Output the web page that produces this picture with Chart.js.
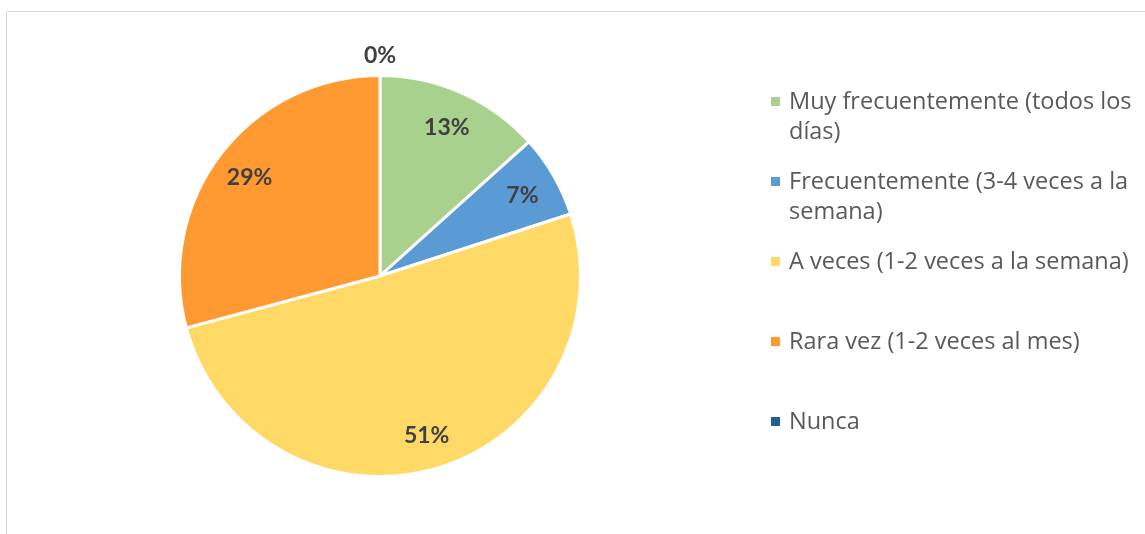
<!DOCTYPE html>
<html>
<head>
<meta charset="utf-8">
<script src="https://cdn.jsdelivr.net/npm/chart.js@4.4.1/dist/chart.umd.min.js"></script>
<style>
  html, body { margin: 0; padding: 0; background: #fff; }
  #wrap { position: relative; width: 1145px; height: 534px; overflow: hidden; }
  #frame { position: absolute; left: 6px; top: 11px; width: 1200px; height: 600px; border: 1px solid #d9d9d9; box-sizing: border-box; }
  #pie { position: absolute; left: 0; top: 0; }
  #legend { position: absolute; left: 770px; top: 85px; width: 375px; font-family: "Open Sans", Lato, sans-serif; font-size: 23.5px; color: #595959; }
  .item { position: relative; padding-left: 19px; line-height: 30px; height: 80px; white-space: nowrap; }
  .box { position: absolute; left: 1px; top: 12px; width: 9px; height: 9px; }
</style>
</head>
<body>
<div id="wrap">
  <div id="frame"></div>
  <canvas id="pie" width="1145" height="534"></canvas>
  <div id="legend"></div>
</div>
<script>
const categories = [
  "Muy frecuentemente (todos los días)",
  "Frecuentemente (3-4 veces a la semana)",
  "A veces (1-2 veces a la semana)",
  "Rara vez (1-2 veces al mes)",
  "Nunca"
];
const legendLines = [
  ["Muy frecuentemente (todos los", "días)"],
  ["Frecuentemente (3-4 veces a la", "semana)"],
  ["A veces (1-2 veces a la semana)"],
  ["Rara vez (1-2 veces al mes)"],
  ["Nunca"]
];
const counts = [16, 8, 61, 35, 0];
const colors = ["#a9d18e", "#5b9bd5", "#ffd966", "#ff9a33", "#255e91"];

// percent labels drawn on the arcs (no datalabels plugin offline)
const pctLabels = {
  id: "pctLabels",
  afterDatasetsDraw(chart) {
    const ctx = chart.ctx;
    const meta = chart.getDatasetMeta(0);
    const total = counts.reduce((a, b) => a + b, 0);
    ctx.save();
    ctx.font = "bold 23px Lato, 'Open Sans', sans-serif";
    ctx.fillStyle = "#404040";
    ctx.textAlign = "center";
    ctx.textBaseline = "middle";
    meta.data.forEach((arc, i) => {
      const p = arc.getProps(["x", "y", "startAngle", "endAngle", "outerRadius"], true);
      const mid = (p.startAngle + p.endAngle) / 2;
      const r = counts[i] === 0 ? p.outerRadius + 22 : p.outerRadius * 0.82;
      const txt = Math.round(counts[i] / total * 100) + "%";
      ctx.fillText(txt, p.x + Math.cos(mid) * r, p.y + Math.sin(mid) * r + 2);
    });
    ctx.restore();
  }
};

new Chart(document.getElementById("pie"), {
  type: "pie",
  plugins: [pctLabels],
  data: {
    labels: categories,
    datasets: [{
      data: counts,
      backgroundColor: colors,
      borderColor: "#ffffff",
      borderWidth: 3,
      hoverOffset: 0
    }]
  },
  options: {
    responsive: false,
    animation: false,
    events: [],
    layout: {
      padding: { left: 178, right: 563, top: 74, bottom: 56 }
    },
    plugins: {
      legend: { display: false },
      tooltip: { enabled: false }
    }
  }
});

const legend = document.getElementById("legend");
legendLines.forEach((lines, i) => {
  const div = document.createElement("div");
  div.className = "item";
  div.innerHTML = '<span class="box" style="background:' + colors[i] + '"></span>' + lines.join("<br>");
  legend.appendChild(div);
});
</script>
</body>
</html>
